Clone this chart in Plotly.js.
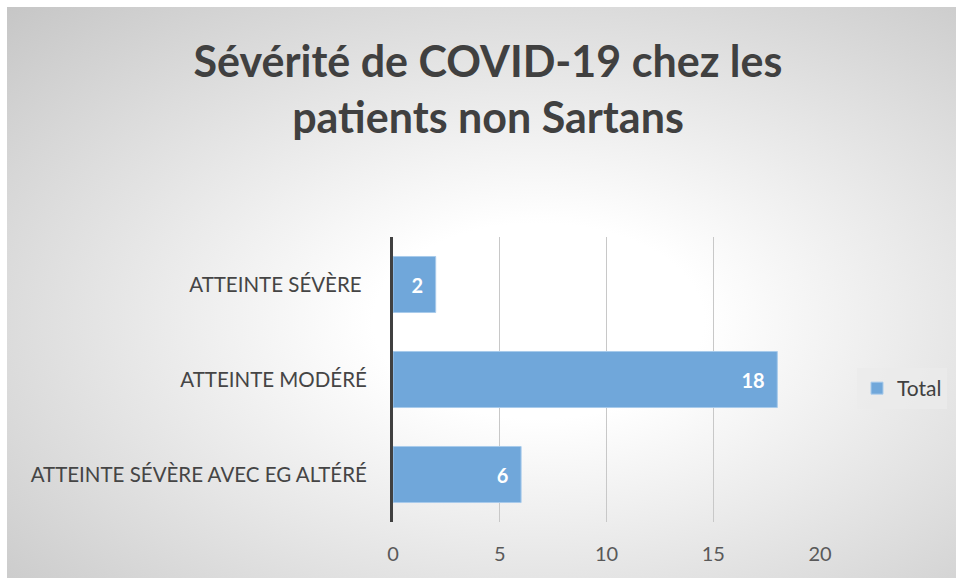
<!DOCTYPE html>
<html>
<head>
<meta charset="utf-8">
<script src="https://cdn.plot.ly/plotly-3.0.1.min.js"></script>
<style>
  html, body { margin: 0; padding: 0; background: #ffffff; }
  #bg { position: absolute; left: 7px; top: 7px; width: 949px; height: 571px;
        background: radial-gradient(ellipse farthest-corner at 56% 55%, #ffffff 0%, #ffffff 22%, #c6c6c6 100%); }
  #chart { position: absolute; left: 0; top: 0; width: 956px; height: 578px; }
</style>
</head>
<body>
<div id="bg"></div>
<div id="chart"></div>
<script>
const categories = ["ATTEINTE SÉVÈRE\u00a0", "ATTEINTE MODÉRÉ", "ATTEINTE SÉVÈRE AVEC EG ALTÉRÉ"];
const totals = [2, 18, 6];
const seriesName = "Total";
const titleText = "Sévérité de COVID-19 chez les<br>patients non Sartans";
const xTicks = [0, 5, 10, 15, 20];

const FONT = "Lato, 'Open Sans', sans-serif";

const trace = {
  type: "bar",
  orientation: "h",
  name: seriesName,
  y: categories,
  x: totals,
  text: totals.map(v => String(v) + "\u00a0\u00a0"),
  textposition: "inside",
  insidetextanchor: "end",
  constraintext: "none",
  textfont: { family: FONT, size: 20, color: "#ffffff", weight: "bold" },
  marker: { color: "#70a7da", line: { color: "#a8cbeb", width: 1 } },
  showlegend: true,
  hoverinfo: "none"
};

const layout = {
  width: 956, height: 578,
  paper_bgcolor: "rgba(0,0,0,0)",
  plot_bgcolor: "rgba(0,0,0,0)",
  margin: { l: 393, r: 136, t: 237, b: 56, pad: 0 },
  bargap: 0.41,
  title: {
    text: titleText,
    font: { family: FONT, size: 43, color: "#404040", weight: "bold" },
    x: 488 / 956, xref: "container", xanchor: "center",
    y: 1 - 77 / 578, yref: "container", yanchor: "middle"
  },
  xaxis: {
    range: [0, 20],
    tickvals: xTicks,
    ticktext: xTicks.map(String),
    showgrid: true, gridcolor: "#c8c8c8", gridwidth: 1,
    zeroline: false, showline: false, ticks: "",
    ticklabelstandoff: 18,
    tickfont: { family: FONT, size: 20, color: "#595959" },
    fixedrange: true
  },
  yaxis: {
    type: "category",
    autorange: "reversed",
    showline: true, linecolor: "#404040", linewidth: 3,
    showgrid: false, zeroline: false, ticks: "",
    ticklabelstandoff: 19,
    tickfont: { family: FONT, size: 20.5, color: "#454545" },
    fixedrange: true
  },
  legend: {
    xref: "container", yref: "container",
    x: 857 / 956, y: 1 - 368 / 578, xanchor: "left", yanchor: "top",
    bgcolor: "rgba(235,235,235,0.75)",
    font: { family: FONT, size: 21, color: "#404040" },
    itemwidth: 30,
    traceorder: "normal"
  }
};

Plotly.newPlot("chart", [trace], layout, { displayModeBar: false, staticPlot: true });
</script>
</body>
</html>
